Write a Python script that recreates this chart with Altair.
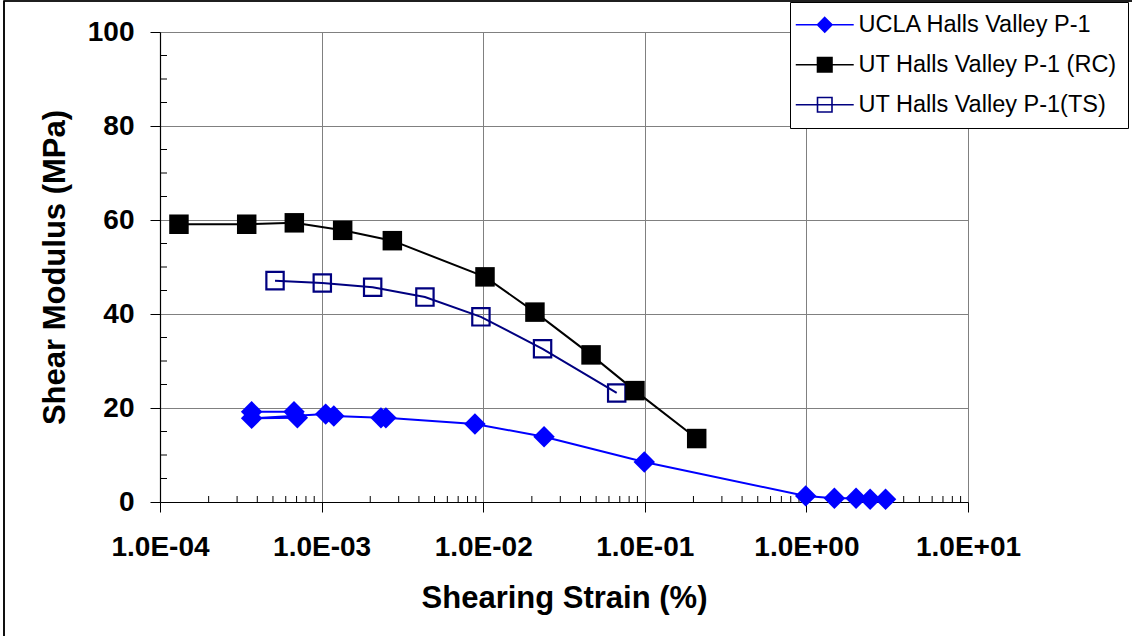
import altair as alt
import pandas as pd

# ---------------- data ----------------
series_names = ["UCLA Halls Valley P-1", "UT Halls Valley P-1 (RC)", "UT Halls Valley P-1(TS)"]

ucla_strain = [3.69e-4, 6.75e-4, 7.08e-4, 3.69e-4, 1.06e-3, 1.19e-3, 2.33e-3, 2.50e-3,
               8.89e-3, 2.38e-2, 9.93e-2, 0.99, 1.49, 2.03, 2.48, 3.09]
ucla_G = [19.2, 19.2, 17.9, 17.8, 18.7, 18.3, 17.9, 17.9,
          16.6, 13.9, 8.5, 1.3, 0.8, 0.8, 0.6, 0.6]

rc_strain = [1.31e-4, 3.44e-4, 6.78e-4, 1.35e-3, 2.74e-3, 1.026e-2, 2.09e-2, 4.65e-2, 8.69e-2, 0.2095]
rc_G = [59.1, 59.1, 59.4, 57.8, 55.6, 47.9, 40.4, 31.3, 23.7, 13.5]

ts_strain = [5.15e-4, 1.01e-3, 2.07e-3, 4.36e-3, 9.68e-3, 2.33e-2, 6.70e-2]
ts_G = [47.1, 46.6, 45.7, 43.6, 39.4, 32.6, 23.2]

x_tick_values = [1e-4, 1e-3, 1e-2, 1e-1, 1e0, 1e1]
x_tick_labels = ["1.0E-04", "1.0E-03", "1.0E-02", "1.0E-01", "1.0E+00", "1.0E+01"]
y_tick_values = [0, 20, 40, 60, 80, 100]

# minor tick positions (axis styling only)
x_minor = [m * d for d in [1e-4, 1e-3, 1e-2, 1e-1, 1e0] for m in range(2, 10)]
y_minor = [v for v in range(5, 100, 5) if v % 20 != 0]

# ---------------- tables ----------------
ucla_df = pd.DataFrame({"strain": ucla_strain, "G": ucla_G, "idx": list(range(len(ucla_G)))})
rc_df = pd.DataFrame({"strain": rc_strain, "G": rc_G, "idx": list(range(len(rc_G)))})
ts_df = pd.DataFrame({"strain": ts_strain, "G": ts_G, "idx": list(range(len(ts_G)))})
legend_df = pd.DataFrame({"series": series_names})
xminor_df = pd.DataFrame({"strain": x_minor})
yminor_df = pd.DataFrame({"G": y_minor})

W, H = 808, 470
FONT = "Liberation Sans"
BLUE, BLACK, NAVY = "#0000FF", "#000000", "#000080"

xscale = alt.Scale(type="log", domain=[1e-4, 10])
yscale = alt.Scale(domain=[0, 100])

label_expr = "[" + ",".join("'" + s + "'" for s in x_tick_labels) + "][round(log(datum.value)/LN10)+4]"

x_axis = alt.Axis(
    values=x_tick_values, labelExpr=label_expr, grid=True, gridColor="#808080", gridWidth=1,
    tickSize=10, tickColor="black", domainColor="black", domainWidth=1.2,
    labelFont=FONT, labelFontWeight="bold", labelFontSize=28, labelColor="black",
    labelPadding=21, labelFlush=False, labelOverlap=False,
    title="Shearing Strain (%)", titleFont=FONT, titleFontWeight="bold", titleFontSize=31,
    titleColor="black", titlePadding=22,
)
y_axis = alt.Axis(
    values=y_tick_values, grid=True, gridColor="#808080", gridWidth=1,
    tickSize=10, tickColor="black", domainColor="black", domainWidth=1.2,
    labelFont=FONT, labelFontWeight="bold", labelFontSize=28, labelColor="black",
    labelPadding=16, labelFlush=False,
    title="Shear Modulus (MPa)", titleFont=FONT, titleFontWeight="bold", titleFontSize=31,
    titleColor="black", titlePadding=16,
)

def X(field="strain"):
    return alt.X(f"{field}:Q", scale=xscale, axis=x_axis)

def Y(field="G"):
    return alt.Y(f"{field}:Q", scale=yscale, axis=y_axis)

# outer frame of the figure
frame = alt.Chart(legend_df).mark_rect(fill="transparent", stroke="black", strokeWidth=1.2).encode(
    x=alt.value(-156), x2=alt.value(W + 300), y=alt.value(-31), y2=alt.value(H + 300)
)

xminor = alt.Chart(xminor_df).mark_rule(color="black", strokeWidth=1).encode(
    x=X(), y=alt.value(H), y2=alt.value(H - 6)
)
yminor = alt.Chart(yminor_df).mark_rule(color="black", strokeWidth=1).encode(
    y=Y(), x=alt.value(0), x2=alt.value(7)
)

ucla_line = alt.Chart(ucla_df).mark_line(color=BLUE, strokeWidth=2).encode(x=X(), y=Y(), order="idx:Q")
ucla_pts = alt.Chart(ucla_df).mark_point(shape="diamond", filled=True, color=BLUE, size=460, opacity=1).encode(x=X(), y=Y())

ts_line = alt.Chart(ts_df).mark_line(color=NAVY, strokeWidth=2).encode(x=X(), y=Y(), order="idx:Q")
ts_pts = alt.Chart(ts_df).mark_point(shape="square", filled=False, stroke=NAVY, strokeWidth=2.2,
                                     size=300, opacity=1).encode(x=X(), y=Y())

rc_line = alt.Chart(rc_df).mark_line(color=BLACK, strokeWidth=2).encode(x=X(), y=Y(), order="idx:Q")
rc_pts = alt.Chart(rc_df).mark_point(shape="square", filled=True, color=BLACK, size=380, opacity=1).encode(x=X(), y=Y())

# legend-only layer (no visible marks): symbols are a line through a marker
diamond_path = "M-4,0L4,0M0,-1L1,0L0,1L-1,0Z"
square_path = "M-4,0L4,0M-1,-1L1,-1L1,1L-1,1Z"
legend_cfg = alt.Legend(
    title=None, orient="none", legendX=630, legendY=-30,
    labelFont=FONT, labelFontSize=23.5, labelColor="black", labelLimit=500,
    labelOffset=22, symbolOffset=12, symbolSize=210, symbolStrokeWidth=1.6,
    rowPadding=15, padding=11, strokeColor="black", fillColor="white",
)
legend_scale_dom = series_names
legend_layer = alt.Chart(legend_df).mark_point(opacity=1).encode(
    shape=alt.Shape("series:N", scale=alt.Scale(domain=legend_scale_dom, range=[diamond_path, square_path, square_path]),
                    legend=legend_cfg),
    fill=alt.Fill("series:N", scale=alt.Scale(domain=legend_scale_dom, range=[BLUE, BLACK, "transparent"]),
                  legend=legend_cfg),
    stroke=alt.Stroke("series:N", scale=alt.Scale(domain=legend_scale_dom, range=[BLUE, BLACK, NAVY]),
                      legend=legend_cfg),
).transform_filter("false")

chart = alt.layer(
    frame, xminor, yminor,
    ucla_line, ucla_pts, ts_line, ts_pts, rc_line, rc_pts,
    legend_layer,
).properties(
    width=W, height=H,
    autosize=alt.AutoSizeParams(type="none"),
    padding={"left": 160, "top": 32, "right": 164, "bottom": 134},
    background="white",
).configure_view(
    stroke="#808080", strokeWidth=2
).configure(font=FONT)

chart.save("out.html", embed_options={"renderer": "svg", "actions": False})
